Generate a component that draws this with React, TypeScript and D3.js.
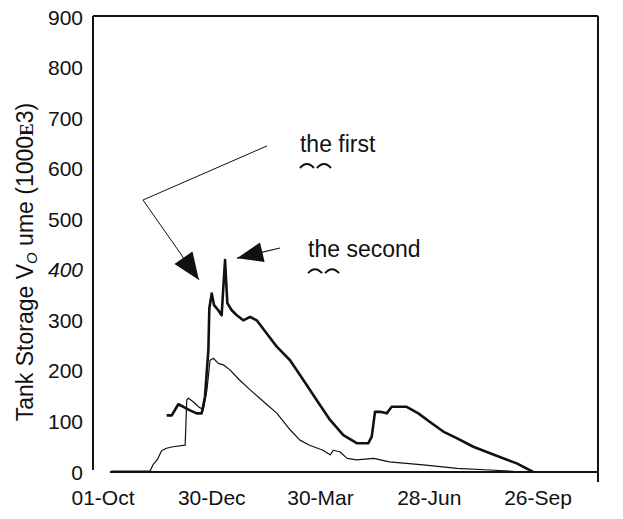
import React from "react";
import * as d3 from "d3";

// ---- data (day since 01-Oct, tank storage volume in 1000 m3) ----
const tickDays = [0, 90, 180, 270, 360];
const tickLabels = ["01-Oct", "30-Dec", "30-Mar", "28-Jun", "26-Sep"];
const yTicks = [0, 100, 200, 300, 400, 500, 600, 700, 800, 900];

const firstDays = [7, 39, 41.5, 43.5, 45.5, 48.5, 52.5, 58, 68, 69.3, 70.6, 74.7, 79, 83, 86, 88.6, 91.3, 95.4, 99.6, 105, 113, 122, 133, 144, 155, 163, 171, 182, 188, 190.6, 196, 202, 210, 224, 237, 251, 265, 293, 320, 348];
const firstVals = [2, 2, 15, 20, 27, 42, 47, 50, 53, 142, 146, 139, 129, 123, 162, 221, 225, 215, 212, 202, 182, 162, 139, 116, 83, 63, 53, 43, 34, 43, 40, 27, 24, 27, 20, 17, 14, 7, 4, 0];

const secondDays = [52.7, 56.9, 62.3, 66.5, 72, 77.5, 81.7, 84.4, 87.2, 88, 90, 91.9, 95.4, 98.2, 99.6, 101, 102.9, 106.5, 110.7, 116.1, 121.7, 127.2, 135.5, 143.8, 154.8, 165.8, 176.9, 187.9, 198.9, 210, 219.6, 222.4, 225.1, 229.3, 234.8, 238.9, 241.7, 251.3, 261, 270.6, 281.6, 292.7, 306.5, 320.3, 342.4, 356.1];
const secondVals = [112, 112, 134, 129, 122, 116, 116, 149, 241, 324, 353, 330, 320, 310, 366, 419, 334, 320, 310, 300, 307, 300, 274, 248, 221, 182, 142, 103, 73, 57, 57, 70, 119, 119, 116, 129, 129, 129, 116, 99, 80, 67, 50, 37, 17, 0];

// annotations in data units
const arrow1Days = [135.7, 33.1, 79.4];
const arrow1Vals = [645, 538, 380];
const arrow2Days = [146.5, 110.9];
const arrow2Vals = [443, 423];
const labelTexts = ["the first", "the second"];
const labelDays = [163, 169.7];
const labelVals = [633, 425];

const W = 623;
const H = 519;
const plotLeft = 93;
const plotRight = 598;
const plotTop = 16;

const xScale = d3.scaleLinear().domain([0, 360]).range([103, 538]);
const yScale = d3.scaleLinear().domain([0, 900]).range([472, 17]);

const lineGen = d3
  .line<[number, number]>()
  .x((d) => xScale(d[0]))
  .y((d) => yScale(d[1]))
  .curve(d3.curveLinear);

function arrowHead(from: [number, number], tip: [number, number], len: number, half: number) {
  const dx = tip[0] - from[0];
  const dy = tip[1] - from[1];
  const L = Math.hypot(dx, dy);
  const ux = dx / L;
  const uy = dy / L;
  const bx = tip[0] - ux * len;
  const by = tip[1] - uy * len;
  const px = -uy * half;
  const py = ux * half;
  return `M${tip[0]},${tip[1]}L${bx + px},${by + py}L${bx - px},${by - py}Z`;
}

export default function App() {
  const first = firstDays.map((d, i) => [d, firstVals[i]] as [number, number]);
  const second = secondDays.map((d, i) => [d, secondVals[i]] as [number, number]);
  const a1 = arrow1Days.map((d, i) => [xScale(d), yScale(arrow1Vals[i])] as [number, number]);
  const a2 = arrow2Days.map((d, i) => [xScale(d), yScale(arrow2Vals[i])] as [number, number]);
  const baseY = yScale(0);
  const font = "'Liberation Sans', Arial, sans-serif";
  const ink = "#111";

  const arcs = (x: number, y: number) =>
    `M${x},${y + 4} Q${x + 7},${y - 4} ${x + 14},${y + 4} M${x + 17},${y + 4} Q${x + 24},${y - 4} ${x + 31},${y + 4}`;

  return (
    <svg width={W} height={H} style={{ position: "absolute", left: 0, top: 0, background: "#fff" }}>
      <rect x={0} y={0} width={W} height={H} fill="#fff" />
      {/* frame */}
      <line x1={plotLeft} y1={plotTop} x2={plotLeft} y2={470} stroke={ink} strokeWidth={2} />
      <line x1={plotLeft} y1={plotTop} x2={plotRight} y2={plotTop} stroke={ink} strokeWidth={2} />
      <line x1={plotRight} y1={plotTop} x2={plotRight} y2={482} stroke={ink} strokeWidth={2} />
      <line x1={110} y1={baseY} x2={plotRight} y2={baseY} stroke={ink} strokeWidth={2} />

      {/* y ticks */}
      {yTicks.map((v) => (
        <text
          key={v}
          x={83}
          y={yScale(v)}
          dy="0.36em"
          textAnchor="end"
          fontFamily={font}
          fontSize={21}
          fontStyle={v === 400 ? "italic" : "normal"}
          fill={ink}
        >
          {v}
        </text>
      ))}

      {/* x ticks */}
      {tickDays.map((d, i) => (
        <text key={d} x={xScale(d)} y={505} textAnchor="middle" fontFamily={font} fontSize={21} fill={ink}>
          {tickLabels[i]}
        </text>
      ))}

      {/* y title */}
      <text
        transform={`translate(33,262) rotate(-90)`}
        textAnchor="middle"
        fontFamily={font}
        fontSize={23}
        fill={ink}
      >
        Tank Storage V
        <tspan fontSize={15} fontStyle="italic" dy={4}>O</tspan>
        <tspan dy={-4}> ume (1000</tspan>
        <tspan fontFamily="'Liberation Serif', 'DejaVu Serif', serif" fontWeight="bold" fontSize={19}>E</tspan>
        <tspan>3)</tspan>
      </text>

      {/* series */}
      <path d={lineGen(first) || ""} fill="none" stroke={ink} strokeWidth={1.2} strokeLinejoin="round" />
      <path d={lineGen(second) || ""} fill="none" stroke={ink} strokeWidth={2.6} strokeLinejoin="round" />

      {/* annotations */}
      <polyline points={a1.map((p) => p.join(",")).join(" ")} fill="none" stroke={ink} strokeWidth={1} />
      <path d={arrowHead(a1[1], a1[2], 27, 11)} fill={ink} />
      <line x1={a2[0][0]} y1={a2[0][1]} x2={a2[1][0]} y2={a2[1][1]} stroke={ink} strokeWidth={1.2} />
      <path d={arrowHead(a2[0], a2[1], 26, 10)} fill={ink} />

      {labelTexts.map((t, i) => (
        <g key={t}>
          <text x={xScale(labelDays[i])} y={yScale(labelVals[i])} fontFamily={font} fontSize={23} fill={ink}>
            {t}
          </text>
          <path
            d={arcs(xScale(labelDays[i]), yScale(labelVals[i]) + 12)}
            fill="none"
            stroke={ink}
            strokeWidth={2}
          />
        </g>
      ))}
    </svg>
  );
}
